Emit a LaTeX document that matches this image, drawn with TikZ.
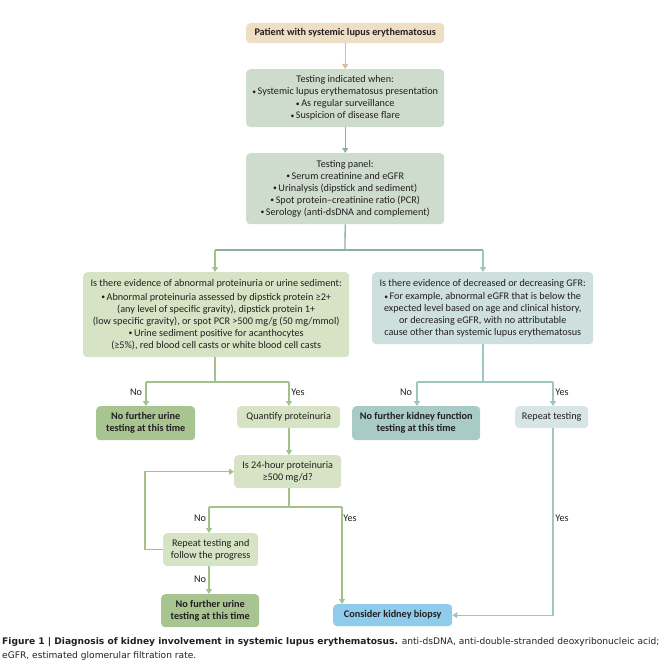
\documentclass[tikz,border=0pt]{standalone}
\usepackage{fontspec}
\setmainfont{Carlito}
\newfontfamily\capfont{DejaVu Sans}
\usetikzlibrary{arrows.meta}
\definecolor{txt}{HTML}{231F20}
\definecolor{tanF}{HTML}{EEDEC4}
\definecolor{tanL}{HTML}{D8BE98}
\definecolor{grayF}{HTML}{CEDCCD}
\definecolor{grayL}{HTML}{8DB09C}
\definecolor{grnF}{HTML}{D6E4C5}
\definecolor{grnD}{HTML}{A8C490}
\definecolor{grnL}{HTML}{A2C28A}
\definecolor{tealF}{HTML}{CDE0DD}
\definecolor{tealD}{HTML}{A8CBC7}
\definecolor{tealL}{HTML}{9EC6C1}
\definecolor{blueF}{HTML}{8FCBEB}
\newcommand{\bul}{\raisebox{0.4pt}{\scalebox{0.75}{•}}\hspace{1.5pt}}
\tikzset{
  box/.style={rounded corners=4pt, inner sep=1pt, align=center, text=txt,
    font=\fontsize{10.2}{12}\selectfont, anchor=north west},
  boldbox/.style={box, font=\fontsize{10.2}{12}\selectfont\bfseries},
  lab/.style={text=txt, font=\fontsize{10.2}{12}\selectfont, inner sep=0pt},
  conn/.style={line width=1.3pt},
  arr/.style={line width=1.3pt, -{Triangle[width=6pt,length=5pt]}},
  captxt/.style={anchor=west, inner sep=0pt, text=txt, font=\capfont\fontsize{9.1}{10}\selectfont},
}
\begin{document}
\begin{tikzpicture}[x=1pt,y=-1pt]
\useasboundingbox (0,0) rectangle (671,666);
% boxes
\node[boldbox, fill=tanF, minimum width=198pt, minimum height=20pt] (pat) at (246,23) {Patient with systemic lupus erythematosus};
\node[box, fill=grayF, minimum width=198pt, minimum height=58pt] (ind) at (246,69) {Testing indicated when:\\ \bul Systemic lupus erythematosus presentation\\ \bul As regular surveillance\\ \bul Suspicion of disease flare};
\node[box, fill=grayF, minimum width=198pt, minimum height=71pt] (pan) at (246,153) {Testing panel:\\ \bul Serum creatinine and eGFR\\ \bul Urinalysis (dipstick and sediment)\\ \bul Spot protein--creatinine ratio (PCR)\\ \bul Serology (anti-dsDNA and complement)};
\node[box, fill=grnF, minimum width=266pt, minimum height=85pt] (lq) at (83,272) {Is there evidence of abnormal proteinuria or urine sediment:\\[1.5pt] \bul Abnormal proteinuria assessed by dipstick protein ≥2+\\ (any level of specific gravity), dipstick protein 1+\\ (low specific gravity), or spot PCR >500 mg/g (50 mg/mmol)\\ \bul Urine sediment positive for acanthocytes\\ (≥5\%), red blood cell casts or white blood cell casts};
\node[box, fill=tealF, minimum width=221pt, minimum height=72pt] (rq) at (372,272) {Is there evidence of decreased or decreasing GFR:\\[1.5pt] \bul For example, abnormal eGFR that is below the\\ expected level based on age and clinical history,\\ or decreasing eGFR, with no attributable\\ cause other than systemic lupus erythematosus};
\node[boldbox, fill=grnD, minimum width=99pt, minimum height=34pt] (nfu1) at (96,406) {No further urine\\ testing at this time};
\node[box, fill=grnF, minimum width=103pt, minimum height=22pt] (qp) at (237,406) {Quantify proteinuria};
\node[boldbox, fill=tealD, minimum width=128pt, minimum height=34pt] (nfk) at (352,406) {No further kidney function\\ testing at this time};
\node[box, fill=tealF!80!white, minimum width=73pt, minimum height=22pt] (rt) at (515,406) {Repeat testing};
\node[box, fill=grnF, minimum width=107pt, minimum height=33pt] (p24) at (234,455) {Is 24-hour proteinuria\\ ≥500 mg/d?};
\node[box, fill=grnF, minimum width=95pt, minimum height=33pt] (rf) at (163,533) {Repeat testing and\\ follow the progress};
\node[boldbox, fill=grnD, minimum width=98pt, minimum height=33pt] (nfu2) at (161,594) {No further urine\\ testing at this time};
\node[boldbox, fill=blueF, minimum width=119pt, minimum height=22pt] (bio) at (333,604) {Consider kidney biopsy};
% coordinates
\coordinate (split) at (345,250);
\coordinate (sl) at (215,250);
\coordinate (sr) at (483,250);
\coordinate (bl) at (146,382);
\coordinate (br) at (289,382);
\coordinate (cl) at (417,382);
\coordinate (cr) at (553,382);
\coordinate (dl) at (209,507);
\coordinate (dr) at (342,507);
% connectors
\draw[arr, tanL] (pat) -- (ind);
\draw[arr, grayL] (ind) -- (pan);
\draw[conn, grayL] (pan.south) -- (split);
\draw[conn, grayL] (sl) -- (sr);
\draw[arr, grnL] (sl) -- (lq.north -| sl);
\draw[arr, tealL] (sr) -- (rq.north -| sr);
\draw[conn, grnL] (lq.south -| sl) -- (sl |- bl);
\draw[conn, grnL] (bl) -- (br);
\draw[arr, grnL] (bl) -- (nfu1.north -| bl);
\draw[arr, grnL] (br) -- (qp.north -| br);
\draw[conn, tealL] (rq.south -| sr) -- (sr |- cl);
\draw[conn, tealL] (cl) -- (cr);
\draw[arr, tealL] (cl) -- (nfk.north -| cl);
\draw[arr, tealL] (cr) -- (rt.north -| cr);
\draw[arr, grnL] (qp.south -| br) -- (p24.north -| br);
\draw[conn, grnL] (p24.south -| br) -- (br |- dl);
\draw[conn, grnL] (dl) -- (dr);
\draw[arr, grnL] (dl) -- (rf.north -| dl);
\draw[arr, grnL] (dr) -- (bio.north -| dr);
\draw[arr, grnL] (rf.south -| dl) -- (nfu2.north -| dl);
\draw[arr, grnL] (rf.west) -- ++(-18,0) |- (p24.west);
\draw[arr, tealL] (rt.south -| cr) |- (bio.east);
% labels
\node[lab] at (136,392) {No};
\node[lab] at (298,392) {Yes};
\node[lab] at (406,392) {No};
\node[lab] at (562,392) {Yes};
\node[lab] at (200,518) {No};
\node[lab] at (350,518) {Yes};
\node[lab] at (562,518) {Yes};
\node[lab] at (200,579) {No};
% caption
\node[captxt] (cap1) at (2,642) {\textbf{Figure 1 | Diagnosis of kidney involvement in systemic lupus erythematosus.} anti-dsDNA, anti-double-stranded deoxyribonucleic acid;};
\node[captxt] (cap2) at (2,656) {eGFR, estimated glomerular filtration rate.};
\end{tikzpicture}
\end{document}
